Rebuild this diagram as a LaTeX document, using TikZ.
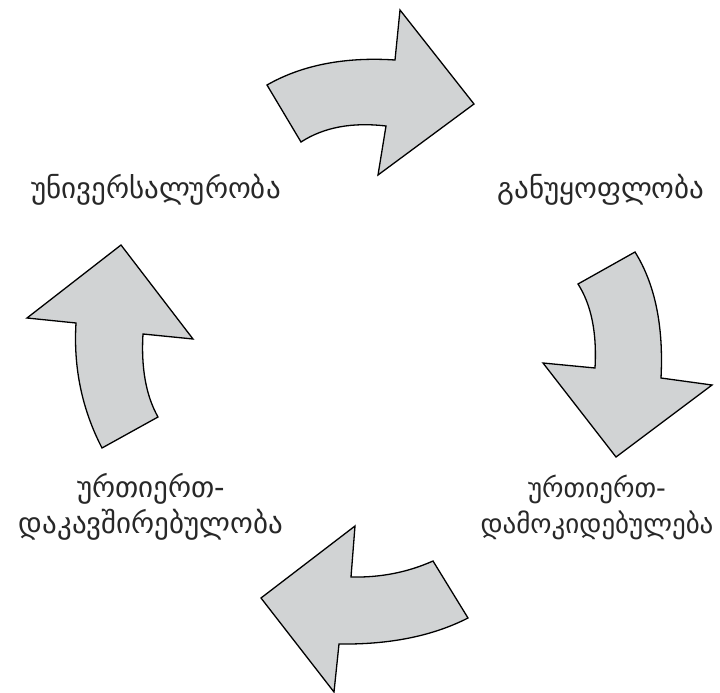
\documentclass[tikz,border=0pt]{standalone}
\usepackage{fontspec}
\newfontfamily\geofont{DejaVu Sans}
\usepackage{tikz}
\usetikzlibrary{positioning}
\definecolor{arrowgray}{RGB}{209,211,212}
\definecolor{labelgray}{RGB}{40,40,40}
\tikzset{
    cycle arrow/.style = {draw, line width=1.3pt, line join=miter, fill=arrowgray},
    label text/.style = {font=\geofont\fontsize{29}{36}\selectfont, text=labelgray, align=center, inner sep=0pt},
}

\begin{document}
\begin{tikzpicture}[x=1pt, y=-1pt]
                \useasboundingbox (0, 0) rectangle (720, 693);

                \node[label text] (univ) at (156, 190) {უნივერსალურობა};
                \node[label text] (ganu) at (601, 190) {განუყოფლობა};
                \node[label text, font=\geofont\fontsize{27}{36}\selectfont] (damok) at (597, 507) {ურთიერთ-\\დამოკიდებულება};
                \node[label text] (dakav) at (151, 507) {ურთიერთ-\\დაკავშირებულობა};

                \draw[cycle arrow] (267, 85) .. controls (302, 65) and (345, 56.7) .. (395, 60) -- (400, 10) -- (474, 104)
                    -- (378, 175) -- (386, 126) .. controls (352, 122) and (323.7, 127.3) .. (301, 142) -- cycle;
                \draw[cycle arrow] (578, 284) .. controls (591.3, 304.7) and (597, 332.7) .. (595, 368) -- (543, 363) -- (616, 457)
                    -- (712, 385) -- (661, 378) .. controls (663.7, 326) and (655, 284) .. (635, 252) -- cycle;
                \draw[cycle arrow] (433, 561) .. controls (407.7, 572.3) and (380.3, 577.7) .. (351, 577) -- (355, 526) -- (261, 598)
                    -- (334, 692) -- (339, 644) .. controls (389.7, 644.7) and (432.7, 636) .. (468, 618) -- cycle;
                \draw[cycle arrow] (121, 245) -- (27, 318) -- (76, 323) .. controls (73.3, 367.7) and (82, 409.3) .. (102, 448)
                    -- (158, 417) .. controls (146, 395.7) and (141, 368) .. (143, 334) -- (193, 339) -- cycle;
            \end{tikzpicture}
\end{document}
